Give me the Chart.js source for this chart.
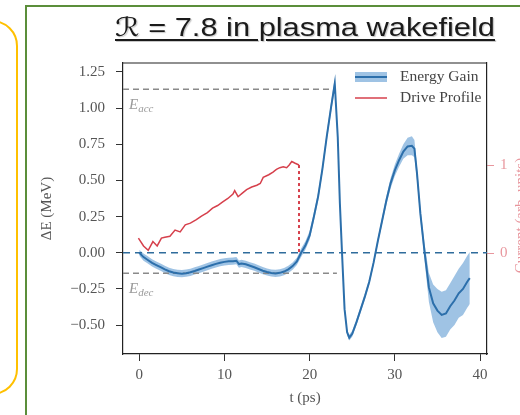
<!DOCTYPE html>
<html><head><meta charset="utf-8">
<script src="https://cdn.jsdelivr.net/npm/chart.js@4.4.0/dist/chart.umd.min.js"></script>
<style>
html,body{margin:0;padding:0;width:520px;height:415px;overflow:hidden;background:#fff;}
#yellow{position:absolute;left:-100px;top:20px;width:114px;height:371px;border:2px solid #ffc000;border-radius:26px;}
#green{position:absolute;left:25px;top:5px;width:600px;height:600px;border-left:2px solid #5b8e3a;border-top:2px solid #5b8e3a;}
#title{position:absolute;left:115px;top:14px;font-size:26px;font-family:"Liberation Sans",Arial,"DejaVu Sans",sans-serif;line-height:26px;white-space:nowrap;color:#1a1a1a;text-decoration:underline;text-decoration-thickness:2px;text-underline-offset:3px;transform-origin:0 0;text-shadow:1px 1px 1px rgba(0,0,0,0.22);}
#wrap{position:absolute;left:0;top:0;width:520px;height:415px;}
</style></head>
<body>
<div id="yellow"></div>
<div id="green"></div>
<div id="title">ℛ = 7.8 in plasma wakefield</div>
<div id="wrap"><canvas id="c" width="520" height="415"></canvas></div>
<script>
// ---- data ----
const tGain = [0,0.5,1,1.5,2,2.5,3,3.5,4,4.5,
  5,5.5,6,6.5,7,7.5,8,8.5,9,9.5,
  10,10.5,11,11.4,11.7,12,12.5,13,13.5,14,
  14.5,15,15.5,16,16.5,17,17.5,18,18.5,19,
  19.5,20,20.5,21,21.5,22,22.5,22.95,23.3,23.55,
  23.8,24.1,24.4,24.65,25,25.5,26,26.5,27,27.5,
  28,28.5,29,29.5,30,30.5,31,31.5,32,32.3,
  32.6,33,33.5,34,34.5,35,35.5,36,36.5,37,
  37.5,38,38.5,38.8];
const gain = [0.0,-0.03,-0.05,-0.07,-0.085,-0.10,-0.115,-0.128,-0.137,-0.142,
  -0.145,-0.141,-0.135,-0.126,-0.116,-0.106,-0.096,-0.086,-0.077,-0.069,
  -0.063,-0.059,-0.058,-0.055,-0.078,-0.074,-0.08,-0.09,-0.10,-0.112,
  -0.124,-0.133,-0.14,-0.143,-0.139,-0.13,-0.115,-0.092,-0.06,0.0,
  0.05,0.12,0.25,0.39,0.58,0.80,1.0,1.17,0.80,0.34,
  0.0,-0.39,-0.55,-0.587,-0.56,-0.48,-0.39,-0.30,-0.20,-0.07,
  0.08,0.22,0.36,0.48,0.57,0.64,0.70,0.735,0.74,0.72,
  0.55,0.27,0.0,-0.24,-0.35,-0.40,-0.43,-0.42,-0.37,-0.33,
  -0.28,-0.25,-0.20,-0.175];
const gainErr = [0.02,0.025,0.025,0.025,0.025,0.025,0.025,0.025,0.025,0.025,
  0.025,0.025,0.025,0.025,0.025,0.025,0.025,0.025,0.025,0.025,
  0.025,0.025,0.025,0.025,0.025,0.025,0.025,0.025,0.025,0.025,
  0.025,0.025,0.025,0.025,0.025,0.025,0.025,0.025,0.025,0.03,
  0.03,0.03,0.03,0.03,0.03,0.03,0.035,0.04,0.03,0.025,
  0.02,0.02,0.02,0.02,0.02,0.02,0.02,0.02,0.02,0.02,
  0.02,0.025,0.03,0.035,0.04,0.045,0.05,0.06,0.065,0.06,
  0.05,0.04,0.06,0.10,0.13,0.15,0.16,0.16,0.16,0.17,
  0.17,0.18,0.18,0.18];
const tDrive = [-0.1,0.5,1.05,1.6,2.1,2.6,3.0,3.6,4.2,4.8,5.4,6.0,6.7,7.3,8.0,8.6,9.2,9.8,10.4,11.0,
  11.2,11.6,12.1,12.6,13.2,13.8,14.2,14.55,15.2,15.7,16.1,16.5,16.9,17.3,17.6,17.9,18.3,18.75];
const drive = [0.17,0.08,0.03,0.13,0.08,0.17,0.18,0.19,0.26,0.24,0.32,0.34,0.38,0.42,0.46,0.51,0.54,0.58,0.62,0.67,
  0.71,0.64,0.68,0.72,0.75,0.77,0.79,0.86,0.89,0.92,0.95,0.97,0.98,0.97,1.0,1.04,1.02,1.0];
const tDrop = [18.75, 18.75];
const dropVals = [1.0, 0.0];
const eAcc = 1.13, eAccEnd = 22.7;
const eDec = -0.142, eDecEnd = 23.2;
const xRange = [-1.91, 40.82];
const yRange = [-0.70, 1.312];
const y2Range = [-1.148, 2.16];
const xTicks = [0,10,20,30,40];
const yTicks = [-0.5,-0.25,0,0.25,0.5,0.75,1.0,1.25];
const y2Ticks = [0,1];
const legendLabels = ['Energy Gain','Drive Profile'];
const axisTitles = {x:'t (ps)', y:'ΔE (MeV)', y2:'Current (arb. units)'};

// ---- title fit ----
const tt = document.getElementById('title');
tt.style.transform = 'scaleX(' + (380 / tt.getBoundingClientRect().width) + ')';

const pts = (xs, ys) => xs.map((x,i)=>({x:x, y:ys[i]}));
const SERIF = '"Liberation Serif","DejaVu Serif",serif';
const BLUE = '#2c6fab', BAND = 'rgba(95,155,210,0.6)', RED = '#d6404c', PINK = 'rgba(214,64,76,0.55)', GRAY = '#8a8a8a';

const deco = {
  id:'deco',
  afterDatasetsDraw(chart){
    const {ctx, chartArea:a, scales} = chart;
    ctx.save();
    ctx.strokeStyle = '#222'; ctx.lineWidth = 1.2;
    ctx.beginPath(); ctx.moveTo(a.left, a.top); ctx.lineTo(a.right, a.top); ctx.stroke();
    // E labels
    const yS = scales.y;
    ctx.fillStyle = '#9a9a9a'; ctx.textBaseline = 'alphabetic'; ctx.textAlign='left';
    [[eAcc,'acc'],[eDec,'dec']].forEach(([v,sub])=>{
      const yb = yS.getPixelForValue(v) + 20;
      ctx.font = 'italic 15px ' + SERIF;
      ctx.fillText('E', a.left + 6, yb);
      const w = ctx.measureText('E').width;
      ctx.font = 'italic 11px ' + SERIF;
      ctx.fillText(sub, a.left + 6 + w, yb + 3);
    });
    // legend
    const lx = a.right - 132, tx = a.right - 87;
    const r1 = a.top + 14, r2 = a.top + 35;
    ctx.fillStyle = BAND; ctx.fillRect(lx, r1 - 5, 32, 10);
    ctx.strokeStyle = BLUE; ctx.lineWidth = 2;
    ctx.beginPath(); ctx.moveTo(lx, r1); ctx.lineTo(lx+32, r1); ctx.stroke();
    ctx.strokeStyle = RED; ctx.lineWidth = 1.5;
    ctx.beginPath(); ctx.moveTo(lx, r2); ctx.lineTo(lx+32, r2); ctx.stroke();
    ctx.fillStyle = '#444'; ctx.font = '15.5px ' + SERIF; ctx.textBaseline = 'middle';
    ctx.fillText(legendLabels[0], tx, r1);
    ctx.fillText(legendLabels[1], tx, r2);
    // right axis title
    ctx.fillStyle = PINK; ctx.font = '15px ' + SERIF; ctx.textAlign = 'center';
    ctx.translate(521, (a.top + a.bottom)/2 + 7);
    ctx.rotate(-Math.PI/2);
    ctx.fillText(axisTitles.y2, 0, 0);
    ctx.restore();
  }
};

const tickFont = {family: SERIF, size: 15};
new Chart(document.getElementById('c'), {
  type:'line',
  data:{datasets:[
    {data: pts(tGain, gain.map((v,i)=>v - gainErr[i])), borderWidth:0, pointRadius:0, fill:false, order:5},
    {data: pts(tGain, gain.map((v,i)=>v + gainErr[i])), borderWidth:0, pointRadius:0, fill:0, backgroundColor:BAND, order:5},
    {data: pts(tGain, gain), borderColor:BLUE, borderWidth:2, pointRadius:0, order:1},
    {data: pts(tDrive, drive), yAxisID:'y2', borderColor:RED, borderWidth:1.5, pointRadius:0, order:2},
    {data: pts(tDrop, dropVals), yAxisID:'y2', borderColor:RED, borderWidth:2, borderDash:[3,3], pointRadius:0, order:2},
    {data: pts(xRange, [0,0]), borderColor:'#2f6c9c', borderWidth:1.5, borderDash:[7,5], pointRadius:0, order:3},
    {data: pts([xRange[0], eAccEnd], [eAcc, eAcc]), borderColor:GRAY, borderWidth:1.5, borderDash:[6,4], pointRadius:0, order:4},
    {data: pts([xRange[0], eDecEnd], [eDec, eDec]), borderColor:GRAY, borderWidth:1.5, borderDash:[6,4], pointRadius:0, order:4}
  ]},
  options:{
    responsive:false, animation:false, events:[],
    layout:{padding:{top:63,left:0,right:0,bottom:0}},
    plugins:{legend:{display:false}, tooltip:{enabled:false}},
    elements:{line:{tension:0}},
    scales:{
      x:{type:'linear', position:'bottom', min:xRange[0], max:xRange[1],
        grid:{drawOnChartArea:false, drawTicks:true, tickLength:7, color:'#333', lineWidth:1},
        border:{display:true, color:'#222', width:1.2},
        ticks:{font:tickFont, color:'#555', padding:5, autoSkip:false, maxRotation:0, callback:v=>String(v)},
        afterBuildTicks:s=>{s.ticks = xTicks.map(v=>({value:v}));},
        afterFit:s=>{s.height = 61;},
        title:{display:true, text:axisTitles.x, font:{family:SERIF,size:15}, color:'#555', padding:{top:0,bottom:8}}
      },
      y:{type:'linear', position:'left', min:yRange[0], max:yRange[1],
        grid:{drawOnChartArea:false, drawTicks:true, tickLength:7, color:'#333', lineWidth:1},
        border:{display:true, color:'#222', width:1.2},
        ticks:{font:tickFont, color:'#555', padding:11, autoSkip:false, callback:v=>v.toFixed(2).replace('-','\u2212')},
        afterBuildTicks:s=>{s.ticks = yTicks.map(v=>({value:v}));},
        afterFit:s=>{s.width = 123;},
        title:{display:true, text:axisTitles.y, font:{family:SERIF,size:15}, color:'#555', padding:{top:38,bottom:0}}
      },
      y2:{type:'linear', position:'right', min:y2Range[0], max:y2Range[1],
        grid:{drawOnChartArea:false, drawTicks:true, tickLength:7, color:PINK, lineWidth:1},
        border:{display:true, color:'#222', width:1.2},
        ticks:{font:tickFont, color:PINK, padding:6, autoSkip:false, callback:v=>String(v)},
        afterBuildTicks:s=>{s.ticks = y2Ticks.map(v=>({value:v}));},
        afterFit:s=>{s.width = 33;},
        title:{display:false}
      }
    }
  },
  plugins:[deco]
});
</script>
</body></html>
